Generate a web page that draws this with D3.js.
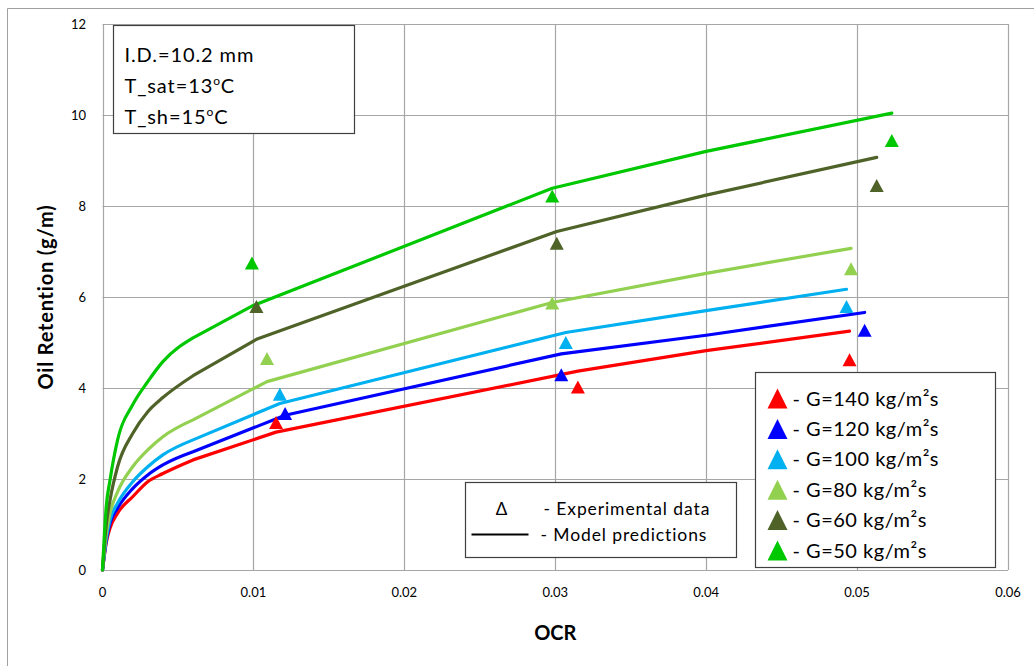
<!DOCTYPE html>
<html>
<head>
<meta charset="utf-8">
<script src="https://cdn.jsdelivr.net/npm/d3@7"></script>
<style>
  body { margin: 0; background: #fff; }
  text { font-family: Lato, "Open Sans", sans-serif; fill: #000; }
</style>
</head>
<body>
<script>
// series order: G=140, 120, 100, 80, 60, 50
const gLabels = ["- G=140 kg/m²s", "- G=120 kg/m²s", "- G=100 kg/m²s", "- G=80 kg/m²s", "- G=60 kg/m²s", "- G=50 kg/m²s"];
const colors = ["#ff0000", "#0000ff", "#00b0f0", "#92d050", "#4f6228", "#00c800"];

// experimental points (triangles)
const expOCR = [
  [0.0115, 0.0315, 0.0495],
  [0.0121, 0.0304, 0.0505],
  [0.01175, 0.0307, 0.0493],
  [0.0109, 0.0298, 0.0496],
  [0.0102, 0.0301, 0.0513],
  [0.0099, 0.0298, 0.0523]
];
const expRetention = [
  [3.24, 4.02, 4.62],
  [3.44, 4.29, 5.27],
  [3.86, 5.00, 5.79],
  [4.65, 5.87, 6.62],
  [5.79, 7.18, 8.45],
  [6.75, 8.22, 9.44]
];

// model predictions (lines)
const modelOCR = [
  [0, 0.00025, 0.0005, 0.001, 0.002, 0.003, 0.004, 0.006, 0.0115, 0.0315, 0.04, 0.0495],
  [0, 0.00025, 0.0005, 0.001, 0.002, 0.003, 0.004, 0.006, 0.0121, 0.0304, 0.04, 0.0505],
  [0, 0.00025, 0.0005, 0.001, 0.002, 0.003, 0.004, 0.006, 0.01175, 0.0307, 0.04, 0.0493],
  [0, 0.00025, 0.0005, 0.001, 0.002, 0.003, 0.004, 0.006, 0.0109, 0.0298, 0.04, 0.0496],
  [0, 0.00025, 0.0005, 0.001, 0.002, 0.003, 0.004, 0.006, 0.0102, 0.0301, 0.04, 0.0513],
  [0, 0.00025, 0.0005, 0.001, 0.002, 0.003, 0.004, 0.006, 0.0099, 0.0298, 0.04, 0.0523]
];
const modelRetention = [
  [0, 0.60, 0.92, 1.25, 1.61, 1.94, 2.12, 2.42, 3.03, 4.37, 4.82, 5.25],
  [0, 0.65, 1.03, 1.36, 1.79, 2.09, 2.31, 2.60, 3.40, 4.75, 5.16, 5.66],
  [0, 0.70, 1.10, 1.47, 1.94, 2.27, 2.53, 2.86, 3.66, 5.22, 5.70, 6.17],
  [0, 0.80, 1.25, 1.72, 2.27, 2.64, 2.93, 3.30, 4.14, 5.88, 6.52, 7.07],
  [0, 1.00, 1.54, 2.27, 3.00, 3.48, 3.79, 4.27, 5.07, 7.44, 8.24, 9.07],
  [0, 1.40, 1.98, 2.86, 3.63, 4.14, 4.58, 5.10, 5.80, 8.39, 9.20, 10.04]
];

const xTicks = [0, 0.01, 0.02, 0.03, 0.04, 0.05, 0.06];
const yTicks = [0, 2, 4, 6, 8, 10, 12];
const infoLines = [["I.D.=10.2 mm", ""], ["T_sat=13", "C"], ["T_sh=15", "C"]];

const width = 1034, height = 666;

const svg = d3.select("body").append("svg")
    .attr("width", width)
    .attr("height", height);

const x = d3.scaleLinear().domain([0, 0.06]).range([102.5, 1008]);
const y = d3.scaleLinear().domain([0, 12]).range([570, 24]);

// outer chart frame
svg.append("path")
    .attr("d", `M7.5,${height}V8.5H${width}`)
    .attr("fill", "none").attr("stroke", "#a0a0a0");

// grid
svg.append("g").selectAll("line").data(xTicks).join("line")
    .attr("x1", d => Math.round(x(d)) + 0.5).attr("x2", d => Math.round(x(d)) + 0.5)
    .attr("y1", y(0)).attr("y2", y(12))
    .attr("stroke", "#a6a6a6").attr("stroke-width", 1.2);
svg.append("g").selectAll("line").data(yTicks).join("line")
    .attr("y1", d => Math.round(y(d)) + 0.5).attr("y2", d => Math.round(y(d)) + 0.5)
    .attr("x1", x(0)).attr("x2", x(0.06))
    .attr("stroke", "#a6a6a6").attr("stroke-width", 1.2);

// tick labels
svg.append("g").selectAll("text").data(xTicks).join("text")
    .attr("x", d => x(d)).attr("y", 597)
    .attr("text-anchor", "middle").attr("font-size", 13)
    .text(d => d);
svg.append("g").selectAll("text").data(yTicks).join("text")
    .attr("x", 86).attr("y", d => y(d) + 5)
    .attr("text-anchor", "end").attr("font-size", 13)
    .text(d => d);

// axis titles
svg.append("text")
    .attr("transform", `translate(53,${(y(0) + y(12)) / 2}) rotate(-90)`)
    .attr("text-anchor", "middle").attr("font-size", 20).attr("font-weight", "bold")
    .attr("letter-spacing", 0.8)
    .text("Oil Retention (g/m)");
svg.append("text")
    .attr("x", (x(0) + x(0.06)) / 2).attr("y", 640)
    .attr("text-anchor", "middle").attr("font-size", 20).attr("font-weight", "bold")
    .text("OCR");

// model lines: smooth near the origin, straight between the computed points after
const smooth = d3.line().curve(d3.curveMonotoneX).x(d => x(d[0])).y(d => y(d[1]));
const modelPath = pts => smooth(pts.slice(0, 8)) + pts.slice(8).map(d => `L${x(d[0])},${y(d[1])}`).join("");
svg.append("g").selectAll("path").data(modelOCR.map((xs, i) => xs.map((v, j) => [v, modelRetention[i][j]])))
    .join("path")
    .attr("d", modelPath)
    .attr("fill", "none")
    .attr("stroke", (d, i) => colors[i])
    .attr("stroke-width", 3.2)
    .attr("stroke-linecap", "round")
    .attr("stroke-linejoin", "round");

// triangle marker, width w, height h, centred on its box
const tri = (w, h) => `M0,${-h / 2}L${w / 2},${h / 2}L${-w / 2},${h / 2}Z`;

const points = expOCR.flatMap((xs, i) => xs.map((v, j) => ({ s: i, ocr: v, ret: expRetention[i][j] })));
svg.append("g").selectAll("path").data(points).join("path")
    .attr("transform", d => `translate(${x(d.ocr)},${y(d.ret)})`)
    .attr("d", tri(14, 13))
    .attr("fill", d => colors[d.s]);

// info box
const info = svg.append("g").attr("transform", "translate(113.5,25.5)");
info.append("rect").attr("width", 241).attr("height", 108)
    .attr("fill", "#fff").attr("stroke", "#404040").attr("stroke-width", 1.2);
info.selectAll("text").data(infoLines).join("text")
    .attr("x", 11).attr("y", (d, i) => 36 + i * 31)
    .attr("font-size", 20).attr("letter-spacing", 0.9)
    .each(function (d) {
      const t = d3.select(this);
      t.append("tspan").text(d[0]);
      if (d[1]) {
        t.append("tspan").attr("font-size", 12).attr("dy", -8).text("o");
        t.append("tspan").attr("dy", 8).text(d[1]);
      }
    });

// key for marks
const key = svg.append("g").attr("transform", "translate(465.5,482.5)");
key.append("rect").attr("width", 271).attr("height", 75)
    .attr("fill", "#fff").attr("stroke", "#404040").attr("stroke-width", 1.2);
key.append("text").attr("x", 36).attr("y", 32).attr("text-anchor", "middle")
    .attr("font-size", 17).text("Δ");
key.append("text").attr("x", 78).attr("y", 32).attr("font-size", 17.5)
    .attr("letter-spacing", 0.9).text("- Experimental data");
key.append("line").attr("x1", 6).attr("x2", 63).attr("y1", 52).attr("y2", 52)
    .attr("stroke", "#000").attr("stroke-width", 2);
key.append("text").attr("x", 75).attr("y", 58).attr("font-size", 17.5)
    .attr("letter-spacing", 0.9).text("- Model predictions");

// G legend
const legend = svg.append("g").attr("transform", "translate(755.5,372.5)");
legend.append("rect").attr("width", 240).attr("height", 195)
    .attr("fill", "#fff").attr("stroke", "#404040").attr("stroke-width", 1.2);
const rows = legend.selectAll("g.row").data(gLabels).join("g")
    .attr("class", "row")
    .attr("transform", (d, i) => `translate(0,${26 + i * 30.4})`);
rows.append("path")
    .attr("transform", "translate(22,0)")
    .attr("d", tri(20, 20))
    .attr("fill", (d, i) => colors[i]);
rows.append("text")
    .attr("x", 37).attr("y", 7)
    .attr("font-size", 20).attr("letter-spacing", 0.5)
    .text(d => d);
</script>
</body>
</html>
